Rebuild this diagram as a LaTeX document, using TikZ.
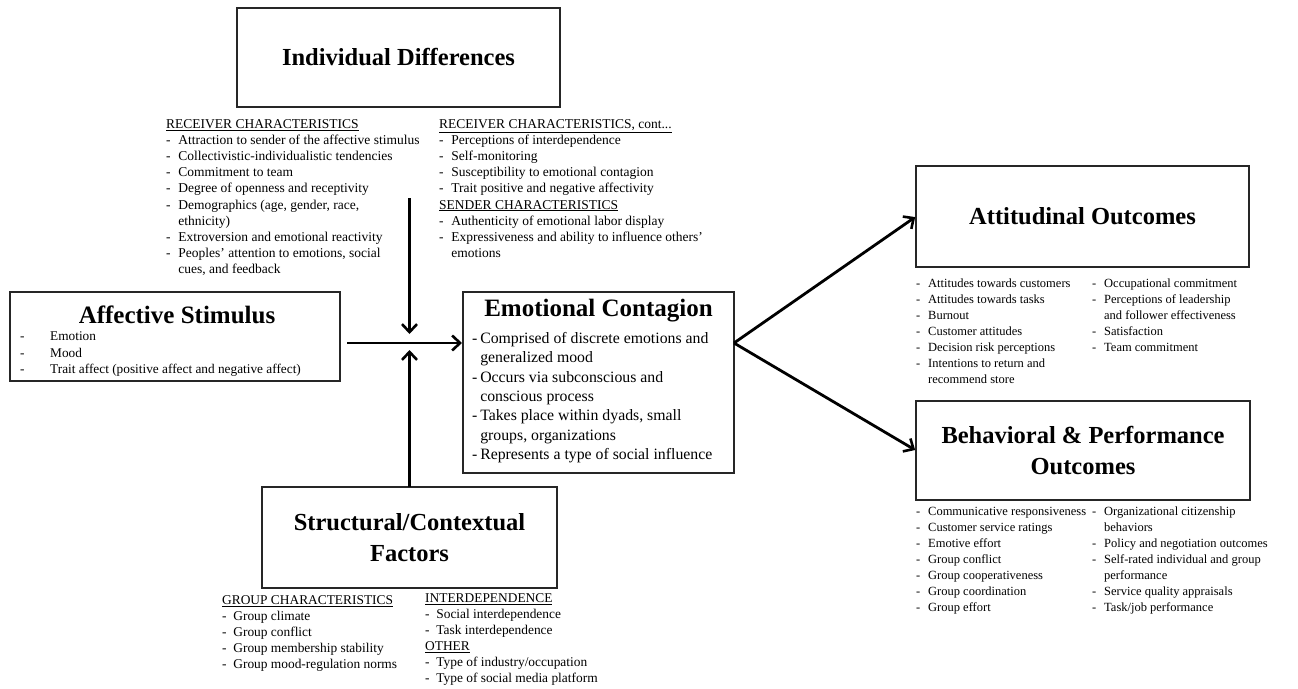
\documentclass[tikz,border=0pt]{standalone}
\usepackage{fontspec}
\setmainfont{Liberation Serif}
\usetikzlibrary{arrows.meta}
\newcommand{\ulh}[1]{\multicolumn{2}{@{}l@{}}{\underline{#1}}}
\newcommand{\dlist}[2][7.7pt]{\begin{tabular}[t]{@{}l@{\hspace{#1}}l@{}}#2\end{tabular}}
\begin{document}
\begin{tikzpicture}[x=1pt,y=-1pt,
  box/.style={draw=black!85, line width=1.4pt, rectangle, inner sep=0pt, outer sep=0pt, align=center,
    font=\fontsize{24.5}{31.5}\selectfont\bfseries},
  ttl/.style={inner sep=0pt, font=\fontsize{25}{30}\selectfont\bfseries},
  lst/.style={inner sep=0pt, anchor=base west, font=\fontsize{13.5}{16.1}\selectfont},
  olst/.style={inner sep=0pt, anchor=base west, font=\fontsize{12.5}{16}\selectfont},
  arr/.style={line width=2.8pt, line cap=butt, -{Straight Barb[length=8pt,width=15pt,line width=2.6pt]}}
]
\useasboundingbox (0,0) rectangle (1298,688);

% ---------- boxes ----------
\node[box, minimum width=323pt, minimum height=99pt] (ind) at (398.5,57.5) {Individual Differences};
\node[box, minimum width=330pt, minimum height=89pt] (aff) at (175,336.5) {};
\node[box, minimum width=271pt, minimum height=181pt] (emo) at (598.5,382.5) {};
\node[box, minimum width=295pt, minimum height=101pt] (str) at (409.5,537.5) {Structural/Contextual\\Factors};
\node[box, minimum width=333pt, minimum height=101pt] (att) at (1082.5,216.5) {Attitudinal Outcomes};
\node[box, minimum width=334pt, minimum height=99pt] (beh) at (1083,450.5) {Behavioral \& Performance\\Outcomes};

% ---------- titles inside boxes ----------
\node[ttl] (afft) at (177,315) {Affective Stimulus};
\node[ttl] (emot) at (598.5,311) {Emotional Contagion};

% ---------- Individual differences lists ----------
\node[lst] (recl) at (166,128.5) {\dlist{%
\ulh{RECEIVER CHARACTERISTICS}\\
- & Attraction to sender of the affective stimulus\\
- & Collectivistic-individualistic tendencies\\
- & Commitment to team\\
- & Degree of openness and receptivity\\
- & Demographics (age, gender, race,\\
  & ethnicity)\\
- & Extroversion and emotional reactivity\\
- & Peoples’ attention to emotions, social\\
  & cues, and feedback}};
\node[lst] (recr) at (439,128.5) {\dlist{%
\ulh{RECEIVER CHARACTERISTICS, cont...}\\
- & Perceptions of interdependence\\
- & Self-monitoring\\
- & Susceptibility to emotional contagion\\
- & Trait positive and negative affectivity\\
\ulh{SENDER CHARACTERISTICS}\\
- & Authenticity of emotional labor display\\
- & Expressiveness and ability to influence others’\\
  & emotions}};

% ---------- Affective stimulus list ----------
\node[lst, font=\fontsize{13.3}{16.5}\selectfont] (affl) at (20,340.5) {\dlist[25.6pt]{%
- & Emotion\\
- & Mood\\
- & Trait affect (positive affect and negative affect)}};

% ---------- Emotional contagion list ----------
\node[lst, font=\fontsize{15.8}{19.33}\selectfont] (emol) at (472,343.5) {\dlist[2.8pt]{%
- & Comprised of discrete emotions and\\
  & generalized mood\\
- & Occurs via subconscious and\\
  & conscious process\\
- & Takes place within dyads, small\\
  & groups, organizations\\
- & Represents a type of social influence}};

% ---------- Structural lists ----------
\node[lst, font=\fontsize{13.4}{16}\selectfont] (strl) at (222,604.5) {\dlist[6.7pt]{%
\ulh{GROUP CHARACTERISTICS}\\
- & Group climate\\
- & Group conflict\\
- & Group membership stability\\
- & Group mood-regulation norms}};
\node[lst, font=\fontsize{13.4}{16}\selectfont] (strr) at (425,602.5) {\dlist[6.7pt]{%
\ulh{INTERDEPENDENCE}\\
- & Social interdependence\\
- & Task interdependence\\
\ulh{OTHER}\\
- & Type of industry/occupation\\
- & Type of social media platform}};

% ---------- Attitudinal lists ----------
\node[olst] (attl) at (916,287.5) {\dlist[7.8pt]{%
- & Attitudes towards customers\\
- & Attitudes towards tasks\\
- & Burnout\\
- & Customer attitudes\\
- & Decision risk perceptions\\
- & Intentions to return and\\
  & recommend store}};
\node[olst] (attr) at (1092,287.5) {\dlist[7.8pt]{%
- & Occupational commitment\\
- & Perceptions of leadership\\
  & and follower effectiveness\\
- & Satisfaction\\
- & Team commitment}};

% ---------- Behavioral lists ----------
\node[olst] (behl) at (916,515.5) {\dlist[7.8pt]{%
- & Communicative responsiveness\\
- & Customer service ratings\\
- & Emotive effort\\
- & Group conflict\\
- & Group cooperativeness\\
- & Group coordination\\
- & Group effort}};
\node[olst] (behr) at (1092,515.5) {\dlist[7.8pt]{%
- & Organizational citizenship\\
  & behaviors\\
- & Policy and negotiation outcomes\\
- & Self-rated individual and group\\
  & performance\\
- & Service quality appraisals\\
- & Task/job performance}};

% ---------- connectors ----------
\coordinate (j) at (409.5,343);
\coordinate (dtop) at (409.5,198);
\coordinate (src) at (emo.east |- j);
\draw[arr, shorten >=9pt] (dtop) -- (j);
\draw[arr, shorten >=7pt] (str.north) -- (j);
\draw[arr, shorten <=7pt, shorten >=1pt] (aff.east |- j) -- (emo.west |- j);
\draw[arr, shorten >=1pt] (src) -- (att.west);
\draw[arr, shorten >=1pt] (src) -- (beh.west);
\end{tikzpicture}
\end{document}
